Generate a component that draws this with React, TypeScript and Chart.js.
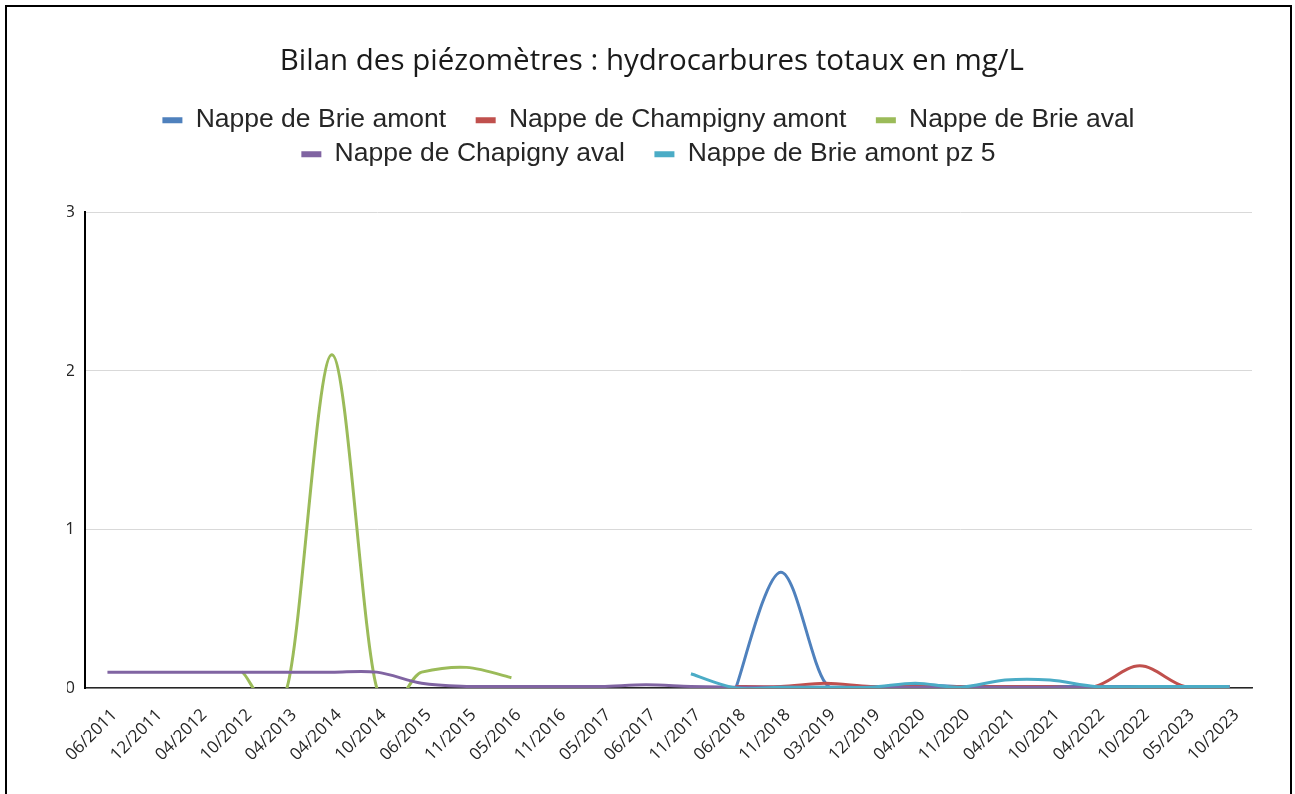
import React, { useEffect, useRef } from 'react';
import { Chart, registerables } from 'chart.js';

Chart.register(...registerables);

const TITLE = 'Bilan des piézomètres : hydrocarbures totaux en mg/L';

const categories = [
  '06/2011', '12/2011', '04/2012', '10/2012', '04/2013', '04/2014', '10/2014',
  '06/2015', '11/2015', '05/2016', '11/2016', '05/2017', '06/2017', '11/2017',
  '06/2018', '11/2018', '03/2019', '12/2019', '04/2020', '11/2020', '04/2021',
  '10/2021', '04/2022', '10/2022', '05/2023', '10/2023',
];

const seriesNames = [
  'Nappe de Brie amont',
  'Nappe de Champigny amont',
  'Nappe de Brie aval',
  'Nappe de Chapigny aval',
  'Nappe de Brie amont pz 5',
];

const seriesColors = ['#4F81BD', '#C0504D', '#9BBB59', '#8064A2', '#4BACC6'];

const brieAmont = [
  null, null, null, null, null, null, null, null, null, null, null, null, null, null,
  0, 0.73, 0.03, 0, 0.02, 0.01, 0.01, 0.01, 0.01, 0.01, 0.01, 0.01,
];

const champignyAmont = [
  null, null, null, null, null, null, null, null, null, null, null, null, null, null,
  0.01, 0.01, 0.03, 0.01, 0.01, 0.01, 0.01, 0.01, 0.01, 0.14, 0.01, 0.01,
];

const brieAval = [
  null, null, null, 0.1, 0, 2.1, 0, 0.1, 0.13, 0.065,
  null, null, null, null, null, null, null, null, null, null, null, null, null, null, null, null,
];

const chapignyAval = [
  0.1, 0.1, 0.1, 0.1, 0.1, 0.1, 0.1, 0.03, 0.01, 0.01, 0.01, 0.01, 0.02, 0.01,
  0.005, 0.005, 0.005, 0.005, 0.005, 0.005, 0.005, 0.005, 0.005, 0.005, 0.005, 0.005,
];

const brieAmontPz5 = [
  null, null, null, null, null, null, null, null, null, null, null, null, null,
  0.09, 0, 0.005, 0.005, 0.005, 0.03, 0.005, 0.05, 0.05, 0.01, 0.01, 0.01, 0.01,
];

const seriesValues = [brieAmont, champignyAmont, brieAval, chapignyAval, brieAmontPz5];

const yTicks = [0, 1, 2, 3];

const CANVAS_W = 1283;
const CANVAS_H = 787;
const PLOT_BOTTOM = 681;

// Excel-style smoothing: uniform Catmull-Rom control points (1/6 of neighbour span)
const excelSmooth = {
  id: 'excelSmooth',
  beforeDatasetsDraw(chart: any) {
    chart.getSortedVisibleDatasetMetas().forEach((meta: any) => {
      const line = meta.dataset;
      if (!line) return;
      line.updateControlPoints(chart.chartArea, meta.iScale ? meta.iScale.axis : 'x');
      const pts = meta.data;
      for (let i = 0; i < pts.length; i++) {
        const p = pts[i];
        if (p.skip) continue;
        const prev = i > 0 && !pts[i - 1].skip ? pts[i - 1] : p;
        const next = i < pts.length - 1 && !pts[i + 1].skip ? pts[i + 1] : p;
        const dx = (next.x - prev.x) / 6;
        const dy = (next.y - prev.y) / 6;
        p.cp1x = p.x - dx;
        p.cp1y = p.y - dy;
        p.cp2x = p.x + dx;
        p.cp2y = p.y + dy;
      }
      line._path = undefined;
    });
  },
};

export default function App() {
  const canvasRef = useRef<HTMLCanvasElement | null>(null);

  useEffect(() => {
    if (!canvasRef.current) return;
    const chart = new Chart(canvasRef.current, {
      type: 'line',
      data: {
        labels: categories,
        datasets: seriesNames.map((name, i) => ({
          label: name,
          data: seriesValues[i],
          borderColor: seriesColors[i],
          backgroundColor: seriesColors[i],
          borderWidth: 3,
          pointRadius: 0,
          pointHoverRadius: 0,
          fill: false,
          tension: 0.4,
          order: seriesNames.length - i,
        })),
      },
      plugins: [excelSmooth],
      options: {
        responsive: false,
        animation: false,
        events: [],
        layout: { padding: { left: 60, right: 38, top: 0, bottom: 0 } },
        elements: { line: { capBezierPoints: false } },
        plugins: {
          title: {
            display: true,
            text: TITLE + '  ',
            color: '#1a1a1a',
            font: { family: "'Open Sans', sans-serif", size: 29.5, weight: 'normal' },
            padding: { top: 37.3, bottom: 19.7 },
          },
          subtitle: {
            display: true,
            text: '',
            weight: 500,
            font: { size: 10, lineHeight: 1 },
            padding: { top: 24.6, bottom: 0 },
          },
          legend: {
            display: true,
            position: 'top',
            labels: {
              font: { family: "'Liberation Sans', Arial, sans-serif", size: 26.5 },
              color: '#262626',
              boxWidth: 20,
              boxHeight: 6,
              padding: 7.5,
              generateLabels: (c: any) =>
                c.data.datasets.map((ds: any, i: number) => ({
                  text: ds.label + '   ',
                  fillStyle: ds.borderColor,
                  strokeStyle: ds.borderColor,
                  lineWidth: 0,
                  hidden: false,
                  datasetIndex: i,
                  fontColor: '#262626',
                })),
            },
          },
          tooltip: { enabled: false },
        },
        scales: {
          x: {
            type: 'category',
            offset: true,
            grid: { display: false, drawTicks: false, tickLength: 0 },
            border: { display: true, color: '#262626', width: 1.5 },
            ticks: {
              autoSkip: false,
              minRotation: 45,
              maxRotation: 45,
              padding: 17,
              labelOffset: 7,
              color: '#262626',
              font: { family: "'Open Sans', sans-serif", size: 17 },
            },
            afterFit: (s: any) => {
              s.height = CANVAS_H - PLOT_BOTTOM;
            },
          },
          y: {
            min: yTicks[0],
            max: yTicks[yTicks.length - 1],
            afterBuildTicks: (s: any) => {
              s.ticks = yTicks.map((v) => ({ value: v }));
            },
            ticks: {
              stepSize: 1,
              padding: 10,
              color: '#262626',
              font: { family: "'Open Sans', sans-serif", size: 17 },
            },
            grid: { color: '#d9d9d9', lineWidth: 1, drawTicks: false, tickLength: 0 },
            border: { display: true, color: '#000000', width: 2 },
            afterFit: (s: any) => {
              s.width = 18;
            },
          },
        },
      } as any,
    });
    return () => chart.destroy();
  }, []);

  return (
    <div
      style={{
        position: 'absolute',
        left: 5,
        top: 5,
        width: CANVAS_W,
        height: CANVAS_H,
        borderTop: '2px solid #000',
        borderLeft: '2px solid #000',
        borderRight: '2px solid #000',
        background: '#fff',
      }}
    >
      <canvas
        ref={canvasRef}
        width={CANVAS_W}
        height={CANVAS_H}
        style={{ display: 'block', width: CANVAS_W, height: CANVAS_H }}
      />
    </div>
  );
}
